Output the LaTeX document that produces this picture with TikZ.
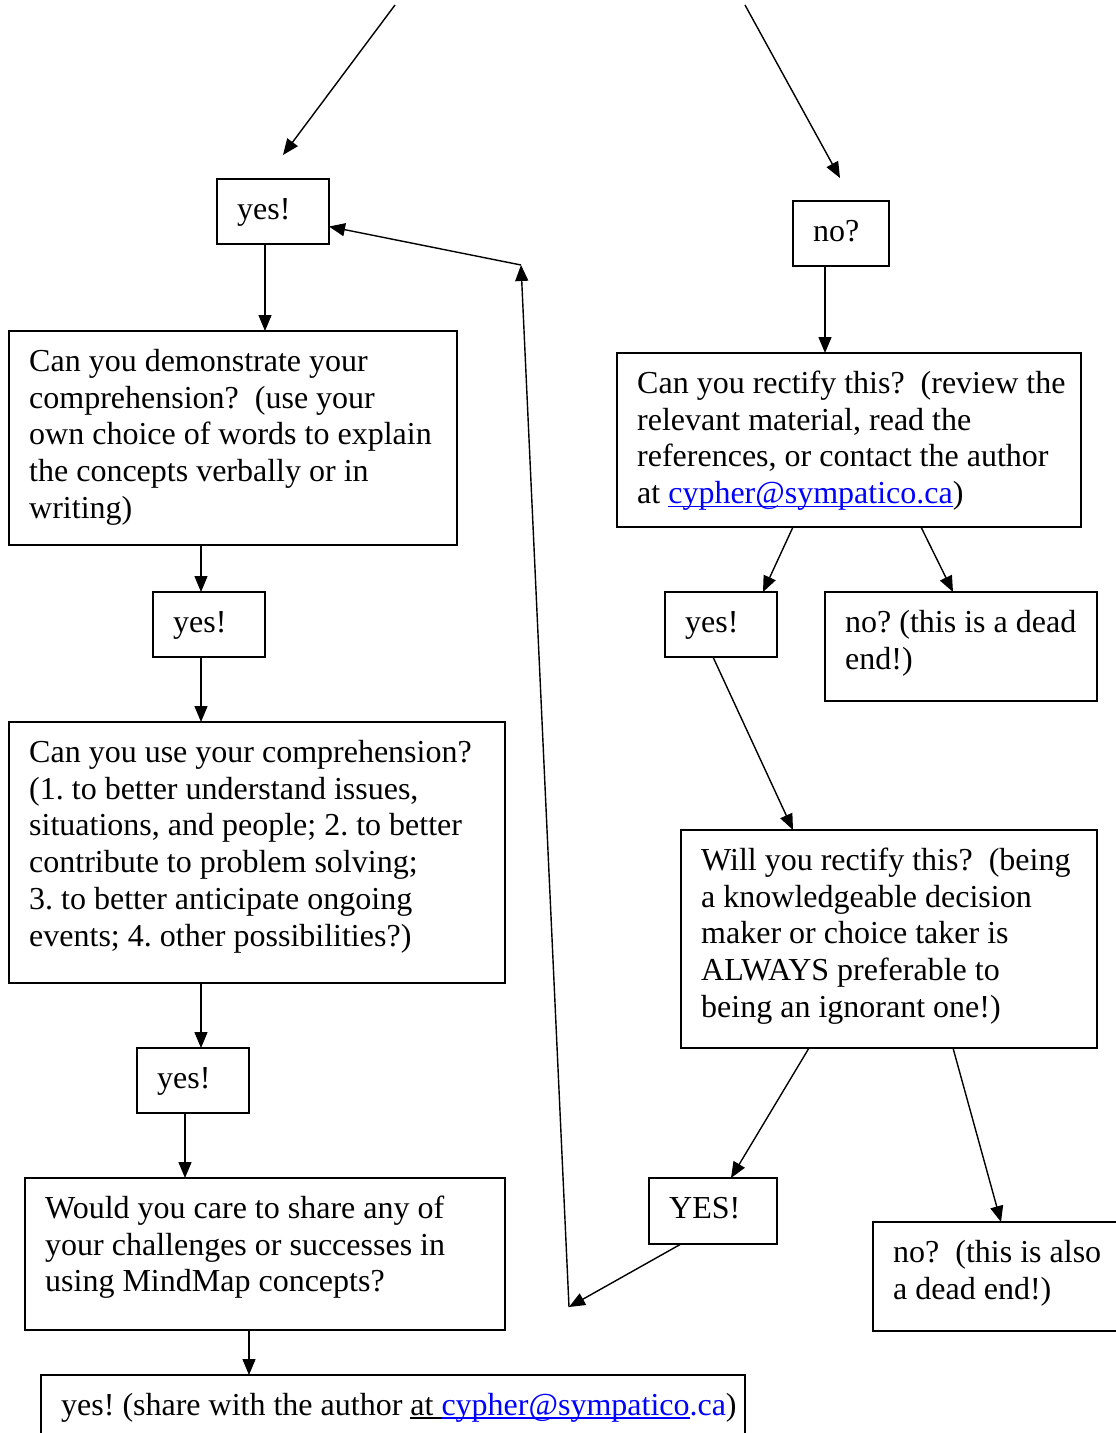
\documentclass[tikz,border=0pt]{standalone}
\usepackage{fontspec}
\setmainfont{Liberation Serif}
\usetikzlibrary{arrows.meta}
\definecolor{linkblue}{RGB}{0,0,255}
\frenchspacing
% underline sitting just under the baseline, crossing the descenders
\newcommand{\lowline}[1]{\setbox0\hbox{#1}\rlap{\rule[-3.5pt]{\wd0}{1.4pt}}\box0}
\newcommand{\maillink}[1]{{\color{linkblue}\lowline{#1}}}
\tikzset{
  box/.style={draw, line width=1.6pt, anchor=north west, inner sep=0pt, outer sep=0pt},
  txt/.style={anchor=north west, inner sep=0pt, align=left,
              font=\fontsize{32pt}{36.8pt}\selectfont},
  arr/.style={line width=1.4pt, -{Triangle[length=16pt,width=13pt]}},
}
% \flowbox{name}{left}{top}{right}{bottom}{text}
\newcommand{\flowbox}[6]{%
  \node[box, minimum width={#4-#2}, minimum height={#5-#3}] (#1) at (#2,#3) {};
  \node[txt] (#1-t) at ([shift={(20,10)}]#1.north west) {\rule{0pt}{30pt}#6};
}
\begin{document}
\begin{tikzpicture}[x=1pt,y=-1pt]
\fill[white] (0,0) rectangle (1116,1433);
\useasboundingbox (0,0) rectangle (1116,1433);

% left column
\flowbox{yesA}{217}{179}{329}{244}{yes!}
\flowbox{demo}{9}{331}{457}{545}{Can you demonstrate your\\comprehension?~ (use your\\own choice of words to explain\\the concepts verbally or in\\writing)}
\flowbox{yesB}{153}{592}{265}{657}{yes!}
\flowbox{use}{9}{722}{505}{983}{Can you use your comprehension?\\(1. to better understand issues,\\situations, and people; 2. to better\\contribute to problem solving;\\3. to better anticipate ongoing\\events; 4. other possibilities?)}
\flowbox{yesC}{137}{1048}{249}{1113}{yes!}
\flowbox{share}{25}{1178}{505}{1330}{Would you care to share any of\\your challenges or successes in\\using MindMap concepts?}
\flowbox{final}{41}{1375}{745}{1460}{yes! (share with the author \lowline{at }\maillink{cypher@sympatico}{\color{linkblue}.ca})}

% right column
\flowbox{noA}{793}{201}{889}{266}{no?}
\flowbox{rect}{617}{353}{1081}{527}{Can you rectify this?~ (review the\\relevant material, read the\\references, or contact the author\\at \maillink{cypher@sympatico.ca})}
\flowbox{yesD}{665}{592}{777}{657}{yes!}
\flowbox{deadA}{825}{592}{1097}{701}{no? (this is a dead\\end!)}
\flowbox{will}{681}{830}{1097}{1048}{Will you rectify this?~ (being\\a knowledgeable decision\\maker or choice taker is\\ALWAYS preferable to\\being an ignorant one!)}
\flowbox{yesE}{649}{1178}{777}{1244}{YES!}
\flowbox{deadB}{873}{1222}{1140}{1331}{no?~ (this is also\\a dead end!)}

% free ends
\coordinate (topL) at (395,5);
\coordinate (topLend) at (283,155);
\coordinate (topR) at (745,5);
\coordinate (topRend) at (840,178);
\coordinate (loopLow) at (569,1307);
\coordinate (loopHigh) at (521,265);

% connectors
\draw[arr] (topL) -- (topLend);
\draw[arr] (topR) -- (topRend);
\draw[arr] ([xshift=48pt]yesA.south west) -- ([xshift=256pt]demo.north west);
\draw[arr] ([xshift=192pt]demo.south west) -- ([xshift=48pt]yesB.north west);
\draw[arr] ([xshift=48pt]yesB.south west) -- ([xshift=192pt]use.north west);
\draw[arr] ([xshift=192pt]use.south west) -- ([xshift=64pt]yesC.north west);
\draw[arr] ([xshift=48pt]yesC.south west) -- ([xshift=160pt]share.north west);
\draw[arr] ([xshift=224pt]share.south west) -- ([xshift=208pt]final.north west);

\draw[arr] ([xshift=32pt]noA.south west) -- ([xshift=208pt]rect.north west);
\draw[arr] ([xshift=176pt]rect.south west) -- ([xshift=98pt]yesD.north west);
\draw[arr] ([xshift=304pt]rect.south west) -- ([xshift=128pt]deadA.north west);
\draw[arr] ([xshift=48pt]yesD.south west) -- ([xshift=112pt]will.north west);
\draw[arr] ([xshift=128pt]will.south west) -- ([xshift=82pt]yesE.north west);
\draw[arr] ([xshift=272pt]will.south west) -- ([xshift=128pt]deadB.north west);

% loop back from YES! to the first yes!
\draw[arr] ([xshift=32pt]yesE.south west) -- (loopLow);
\draw[arr] (loopLow) -- (loopHigh);
\draw[arr] (loopHigh) -- ([yshift=-15pt]yesA.east);
\end{tikzpicture}
\end{document}
